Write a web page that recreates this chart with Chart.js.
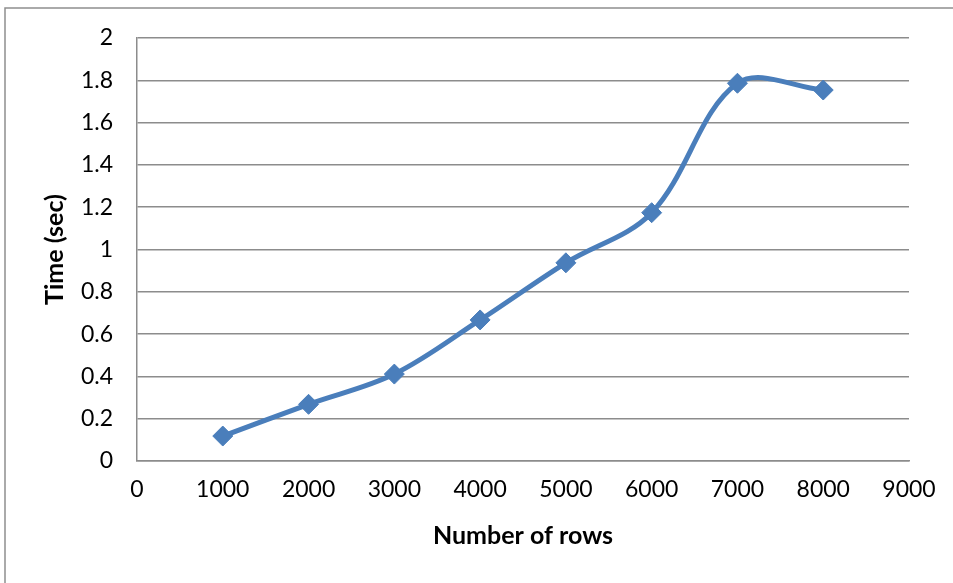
<!DOCTYPE html>
<html>
<head>
<meta charset="utf-8">
<script src="https://cdn.jsdelivr.net/npm/chart.js@4.4.1/dist/chart.umd.min.js"></script>
<style>
  html, body { margin: 0; padding: 0; background: #ffffff; }
  #wrap { width: 953px; height: 583px; position: relative; }
</style>
</head>
<body>
<div id="wrap"><canvas id="chart" width="953" height="583"></canvas></div>
<script>
// Query time measured against table size
const rowCounts = [1000, 2000, 3000, 4000, 5000, 6000, 7000, 8000];
const timeSec = [0.118, 0.268, 0.411, 0.667, 0.937, 1.174, 1.786, 1.754];

const xTitle = 'Number of rows';
const yTitle = 'Time (sec)';

const lineBlue = '#4a7ebb';
const gridGray = '#8c8c8c';
const fontFamily = 'Lato, "Open Sans", "Liberation Sans", sans-serif';

// Thin frame around the chart, open on the right and bottom edges
const framePlugin = {
  id: 'frame',
  beforeDraw(chart) {
    const ctx = chart.ctx;
    ctx.save();
    ctx.strokeStyle = '#8e8e8e';
    ctx.lineWidth = 1.5;
    ctx.beginPath();
    ctx.moveTo(5, 600);
    ctx.lineTo(5, 8);
    ctx.lineTo(960, 8);
    ctx.stroke();
    ctx.restore();
  }
};

new Chart(document.getElementById('chart'), {
  type: 'scatter',
  data: {
    datasets: [{
      data: rowCounts.map((x, i) => ({ x, y: timeSec[i] })),
      showLine: true,
      borderColor: lineBlue,
      backgroundColor: lineBlue,
      borderWidth: 5,
      tension: 0.35,
      pointStyle: 'rectRot',
      pointRadius: 10,
      pointBorderWidth: 1,
      pointBorderColor: lineBlue,
      pointBackgroundColor: lineBlue
    }]
  },
  options: {
    responsive: false,
    animation: false,
    devicePixelRatio: 1,
    layout: { padding: { left: 0, top: 38, right: 44, bottom: 0 } },
    plugins: {
      legend: { display: false },
      tooltip: { enabled: false }
    },
    scales: {
      x: {
        type: 'linear',
        min: 0,
        max: 9000,
        ticks: {
          stepSize: 1000,
          color: '#000000',
          padding: 15,
          font: { family: fontFamily, size: 23 },
          maxRotation: 0,
          callback: v => String(v)
        },
        grid: { display: false, drawTicks: false },
        border: { display: true, color: gridGray, width: 1.5 },
        title: {
          display: true,
          text: xTitle,
          color: '#000000',
          font: { family: fontFamily, size: 25, weight: 'bold' },
          padding: { top: 0, bottom: 32 }
        },
        afterFit(scale) { scale.height = 122; }
      },
      y: {
        min: 0,
        max: 2,
        ticks: {
          stepSize: 0.2,
          color: '#000000',
          padding: 24,
          font: { family: fontFamily, size: 23 },
          callback: v => String(Math.round(v * 10) / 10)
        },
        grid: { color: gridGray, lineWidth: 1.5, drawTicks: false },
        border: { display: true, color: gridGray, width: 1.5 },
        title: {
          display: true,
          text: yTitle,
          color: '#000000',
          font: { family: fontFamily, size: 25, weight: 'bold' },
          padding: { top: 40, bottom: 0 }
        },
        afterFit(scale) { scale.width = 137; }
      }
    }
  },
  plugins: [framePlugin]
});
</script>
</body>
</html>
